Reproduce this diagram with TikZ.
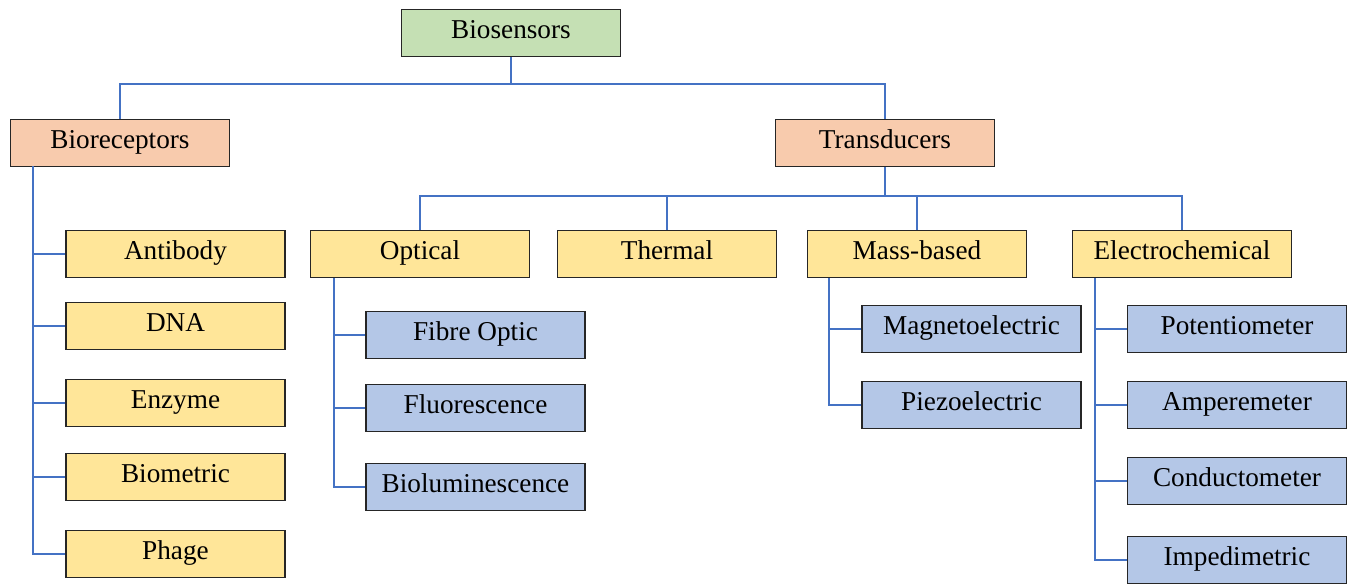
\documentclass[tikz,border=0pt]{standalone}
\usepackage{fontspec}
\setmainfont{Liberation Serif}
\usepackage{tikz}

\definecolor{rootgreen}{HTML}{C5E0B4}
\definecolor{catorange}{HTML}{F8CBAD}
\definecolor{typeyellow}{HTML}{FFE699}
\definecolor{subblue}{HTML}{B4C7E7}
\definecolor{linkblue}{HTML}{4472C4}

\tikzset{
  box/.style={draw=black!85, line width=0.8pt, minimum width=4.38cm, minimum height=0.93cm,
    inner sep=0pt, text height=2.2ex, text depth=0.9ex, font=\fontsize{15.5}{18}\selectfont},
  link/.style={linkblue, line width=0.8pt}
}

\begin{document}
\begin{tikzpicture}[x=0.02cm,y=-0.02cm]
\useasboundingbox (0,0) rectangle (1353,583);
\fill [white] (0,0) rectangle (1353,583);

% top levels
\node [box, fill=rootgreen] (bios) at (511,33) {Biosensors};
\node [box, fill=catorange] (biorec) at (120,143) {Bioreceptors};
\node [box, fill=catorange] (trans) at (885,143) {Transducers};

% bioreceptors
\node [box, fill=typeyellow] (antibody) at (175.5,254) {Antibody};
\node [box, fill=typeyellow] (dna) at (175.5,326) {DNA};
\node [box, fill=typeyellow] (enzyme) at (175.5,403) {Enzyme};
\node [box, fill=typeyellow] (biometric) at (175.5,477) {Biometric};
\node [box, fill=typeyellow] (phage) at (175.5,554) {Phage};

% transducer types
\node [box, fill=typeyellow] (optical) at (420,254) {Optical};
\node [box, fill=typeyellow] (thermal) at (667,254) {Thermal};
\node [box, fill=typeyellow] (mass) at (917,254) {Mass-based};
\node [box, fill=typeyellow] (electro) at (1182,254) {Electrochemical};

% sub types
\node [box, fill=subblue] (fibre) at (475.5,335) {Fibre Optic};
\node [box, fill=subblue] (fluor) at (475.5,408) {Fluorescence};
\node [box, fill=subblue] (biolum) at (475.5,487) {Bioluminescence};
\node [box, fill=subblue] (magneto) at (971.5,329) {Magnetoelectric};
\node [box, fill=subblue] (piezo) at (971.5,405) {Piezoelectric};
\node [box, fill=subblue] (potentio) at (1237,329) {Potentiometer};
\node [box, fill=subblue] (ampere) at (1237,405) {Amperemeter};
\node [box, fill=subblue] (conducto) at (1237,481) {Conductometer};
\node [box, fill=subblue] (impedi) at (1237,560) {Impedimetric};

% buses
\coordinate (topbus) at (511,84);
\coordinate (transbus) at (885,196);
\draw [link] (bios) -- (topbus);
\draw [link] (biorec.north) |- (topbus) -| (trans.north);
\draw [link] (trans) -- (transbus);
\draw [link] (optical.north) |- (transbus) -| (electro.north);
\draw [link] (thermal.north) -- (thermal.north |- transbus);
\draw [link] (mass.north) -- (mass.north |- transbus);

% spines
\coordinate (recspine) at (33,166);
\coordinate (optspine) at (334,278);
\coordinate (massspine) at (829,278);
\coordinate (elecspine) at (1095,278);
\draw [link] (recspine) |- (phage.west);
\foreach \n in {antibody,dna,enzyme,biometric}
  \draw [link] (recspine |- \n.west) -- (\n.west);
\draw [link] (optspine) |- (biolum.west);
\foreach \n in {fibre,fluor}
  \draw [link] (optspine |- \n.west) -- (\n.west);
\draw [link] (massspine) |- (piezo.west);
\draw [link] (massspine |- magneto.west) -- (magneto.west);
\draw [link] (elecspine) |- (impedi.west);
\foreach \n in {potentio,ampere,conducto}
  \draw [link] (elecspine |- \n.west) -- (\n.west);
\end{tikzpicture}
\end{document}
